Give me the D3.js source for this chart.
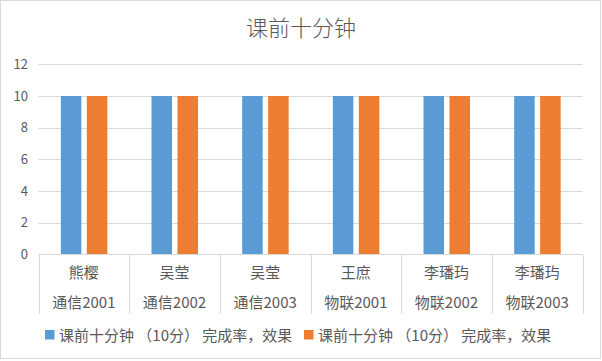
<!DOCTYPE html>
<html><head><meta charset="utf-8">
<script src="https://cdn.jsdelivr.net/npm/d3@7"></script>
<style>body{margin:0;background:#fff}svg{display:block}text{font-family:"Noto Sans CJK SC","Noto Sans",sans-serif;fill:#595959}</style>
</head><body>
<svg id="c" width="602" height="361"></svg>
<script>
const names = ["熊樱","吴莹","吴莹","王庶","李璠玙","李璠玙"];
const classes = ["通信2001","通信2002","通信2003","物联2001","物联2002","物联2003"];
const seriesNames = ["课前十分钟 （10分） 完成率，效果","课前十分钟 （10分） 完成率，效果"];
const series1 = [10,10,10,10,10,10];
const series2 = [10,10,10,10,10,10];
const yTicks = [0,2,4,6,8,10,12];
const colors = ["#5B9BD5","#ED7D31"];
const title = "课前十分钟";

const svg = d3.select("#c");
svg.append("rect").attr("x",0.5).attr("y",0.5).attr("width",600).attr("height",358)
  .attr("fill","#fff").attr("stroke","#d9d9d9");

svg.append("text").attr("x",301).attr("y",36).attr("text-anchor","middle")
  .style("font-size","22px").style("font-weight","300").text(title);

const idx = d3.range(names.length);
const x = d3.scaleBand().domain(idx).range([38.5,582.5]).padding(0);
const y = d3.scaleLinear().domain([0,12]).range([254.5,64.3]);
const x1 = d3.scaleBand().domain([0,1]).range([0,46.5]).paddingInner(0.21).paddingOuter(0);

// grid
svg.append("g").selectAll("line").data(yTicks.filter(d=>d>0)).join("line")
  .attr("x1",38.5).attr("x2",582.5)
  .attr("y1",d=>Math.round(y(d))+0.5).attr("y2",d=>Math.round(y(d))+0.5)
  .attr("stroke","#d9d9d9");

// y labels
svg.append("g").selectAll("text").data(yTicks).join("text")
  .attr("x",28).attr("y",d=>y(d)+4.5).attr("text-anchor","end")
  .style("font-size","13px").text(d=>d);

// bars
const data = [series1, series2];
data.forEach((s,si)=>{
  svg.append("g").selectAll("rect").data(s).join("rect")
    .attr("x",(d,i)=>x(i)+x.bandwidth()/2-23+x1(si))
    .attr("width",x1.bandwidth())
    .attr("y",d=>y(d))
    .attr("height",d=>y(0)-y(d))
    .attr("fill",colors[si]);
});

// axis
svg.append("line").attr("x1",38.5).attr("x2",582.5).attr("y1",254.5).attr("y2",254.5).attr("stroke","#d9d9d9");
const bounds = idx.map(i=>x(i)).concat([x.range()[1]]);
svg.append("g").selectAll("line").data(bounds).join("line")
  .attr("x1",d=>Math.round(d)+0.5).attr("x2",d=>Math.round(d)+0.5)
  .attr("y1",254.5).attr("y2",314).attr("stroke","#d9d9d9");

const lab = svg.append("g");
lab.selectAll("text.n").data(idx).join("text").attr("class","n")
  .attr("x",i=>x(i)+x.bandwidth()/2).attr("y",278).attr("text-anchor","middle")
  .style("font-size","15px").text(i=>names[i]);
lab.selectAll("text.c").data(idx).join("text").attr("class","c")
  .attr("x",i=>x(i)+x.bandwidth()/2).attr("y",308).attr("text-anchor","middle")
  .style("font-size","15px").text(i=>classes[i]);

// legend
const leg = svg.append("g");
const legX = [45,304];
seriesNames.forEach((n,i)=>{
  leg.append("rect").attr("x",legX[i]).attr("y",330).attr("width",9.5).attr("height",9.5).attr("fill",colors[i]);
  leg.append("text").attr("x",legX[i]+14).attr("y",340.5).style("font-size","15px").text(n);
});
</script>
</body></html>
